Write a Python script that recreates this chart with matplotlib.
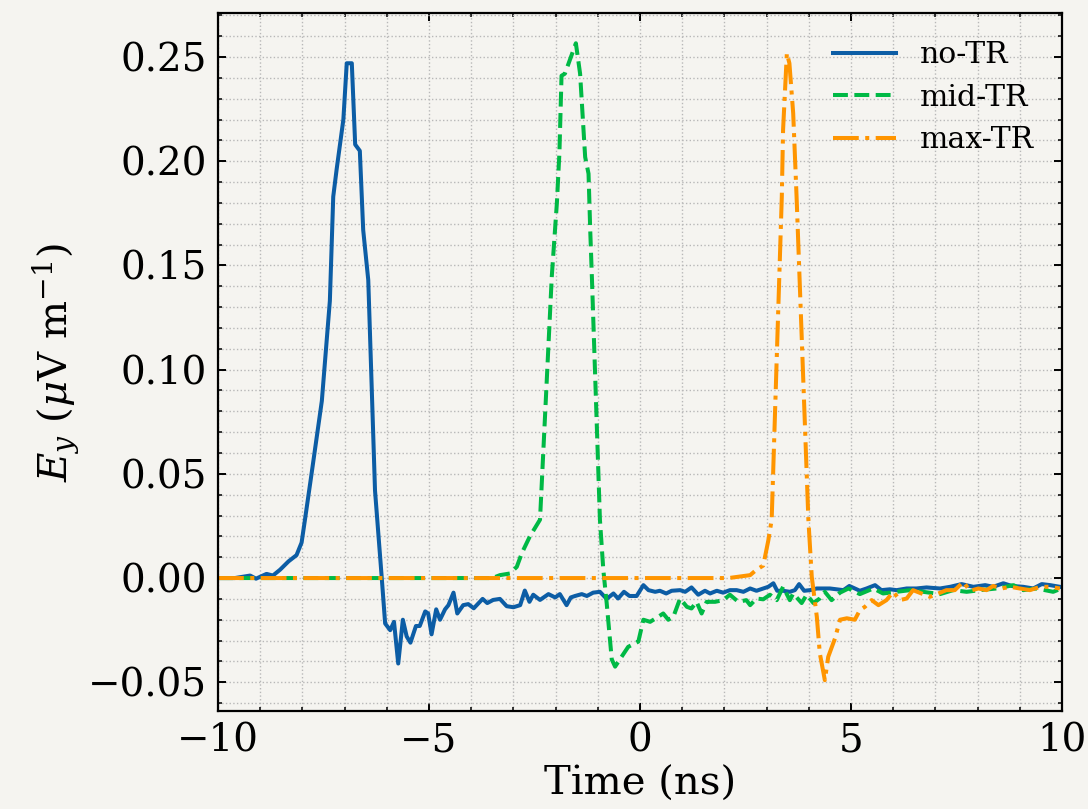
import matplotlib
matplotlib.use("Agg")
import matplotlib.pyplot as plt
from matplotlib.ticker import MultipleLocator

# ---------------- data ----------------
t_no = [-10, -9.6, -9.24, -9.1, -8.85, -8.7, -8.53, -8.33, -8.14, -8.02, -7.94, -7.77, -7.54,
        -7.35, -7.27, -7.19, -7.03, -6.95, -6.83, -6.75, -6.64, -6.56, -6.44, -6.28, -6.12,
        -6.04, -5.92, -5.83, -5.73, -5.62, -5.53, -5.44, -5.31, -5.22, -5.09, -5.02, -4.94,
        -4.83, -4.74, -4.62, -4.54, -4.42, -4.33, -4.19, -4.07, -3.94, -3.73, -3.62, -3.48,
        -3.32, -3.16, -3.00, -2.84, -2.73, -2.62, -2.53, -2.37, -2.17, -2.01, -1.90, -1.74,
        -1.64, -1.54, -1.38, -1.26, -1.11, -0.95, -0.79, -0.63, -0.52, -0.38, -0.25, -0.08,
        0.08, 0.20, 0.36, 0.47, 0.62, 0.75, 0.95, 1.07, 1.22, 1.38, 1.54, 1.66, 1.82, 1.97,
        2.13, 2.29, 2.45, 2.61, 2.76, 2.92, 3.04, 3.16, 3.25, 3.39, 3.55, 3.67, 3.77, 3.89,
        4.03, 4.19, 4.38, 4.50, 4.66, 4.82, 4.96, 5.21, 5.37, 5.57, 5.72, 5.92, 6.08, 6.32,
        6.55, 6.79, 7.11, 7.35, 7.62, 7.90, 8.18, 8.37, 8.61, 8.81, 9.08, 9.32, 9.52, 9.72, 9.95]
e_no = [0.0, 0.0, 0.0012, -0.0003, 0.002, 0.0012, 0.004, 0.008, 0.011, 0.017, 0.028, 0.052, 0.085,
        0.133, 0.183, 0.196, 0.22, 0.247, 0.247, 0.208, 0.205, 0.167, 0.143, 0.042, 0.0,
        -0.0218, -0.025, -0.021, -0.041, -0.020, -0.028, -0.031, -0.023, -0.023, -0.016, -0.017, -0.027,
        -0.015, -0.020, -0.015, -0.013, -0.007, -0.017, -0.013, -0.0125, -0.0145, -0.010, -0.012, -0.0105,
        -0.010, -0.0135, -0.014, -0.013, -0.006, -0.0114, -0.008, -0.0105, -0.0077, -0.0093, -0.0077, -0.013,
        -0.0093, -0.0086, -0.0077, -0.0086, -0.007, -0.0066, -0.010, -0.0074, -0.0098, -0.0066, -0.0086, -0.0086,
        -0.0034, -0.0058, -0.0066, -0.0061, -0.0074, -0.0061, -0.0058, -0.0066, -0.0045, -0.008, -0.0061, -0.0074, -0.0061, -0.007,
        -0.0058, -0.0058, -0.0066, -0.005, -0.0061, -0.005, -0.0042, -0.0025, -0.0061, -0.0061, -0.0066, -0.0058, -0.0029, -0.0061,
        -0.0058, -0.005, -0.005, -0.005, -0.0054, -0.0058, -0.0038, -0.0061, -0.005, -0.0034, -0.0058, -0.0054, -0.0058, -0.005,
        -0.005, -0.0045, -0.005, -0.0042, -0.0029, -0.0042, -0.0034, -0.0042, -0.0025, -0.0038, -0.0042, -0.005, -0.0029, -0.0034, -0.0042]

t_mid = [-10, -3.5, -3.32, -3.08, -2.92, -2.80, -2.61, -2.37, -2.09, -1.97, -1.91, -1.86, -1.78,
         -1.52, -1.42, -1.30, -1.22, -1.18, -1.14, -0.95, -0.87, -0.79, -0.67, -0.59, -0.51,
         -0.28, -0.04, 0.08, 0.24, 0.43, 0.55, 0.67, 0.79, 0.95, 1.11, 1.22, 1.34, 1.46, 1.58,
         1.78, 1.97, 2.13, 2.33, 2.52, 2.61, 2.76, 2.92, 3.08, 3.24, 3.39, 3.55, 3.63, 3.83,
         3.95, 4.11, 4.26, 4.38, 4.54, 4.74, 4.94, 5.21, 5.53, 5.76, 6.08, 6.40, 6.71, 7.11,
         7.42, 7.74, 8.06, 8.45, 8.85, 9.08, 9.40, 9.79, 9.99]
e_mid = [0.0, 0.0, 0.0014, 0.0022, 0.0054, 0.012, 0.020, 0.028, 0.145, 0.18, 0.204, 0.241, 0.242,
         0.2566, 0.242, 0.202, 0.194, 0.167, 0.144, 0.028, 0.004, -0.012, -0.039, -0.0425, -0.040,
         -0.033, -0.0305, -0.020, -0.021, -0.0186, -0.017, -0.020, -0.0186, -0.0098, -0.0138, -0.0146, -0.0114, -0.017, -0.0114,
         -0.0114, -0.0106, -0.008, -0.0114, -0.0106, -0.013, -0.0098, -0.0102, -0.008, -0.0106, -0.0042, -0.0106, -0.0074, -0.012,
         -0.008, -0.012, -0.0098, -0.0066, -0.0106, -0.007, -0.005, -0.0077, -0.005, -0.0074, -0.0066, -0.0058, -0.0066, -0.0077,
         -0.0058, -0.0066, -0.0058, -0.005, -0.0034, -0.0058, -0.005, -0.0066, -0.005]

t_max = [-10, 2.1, 2.61, 2.76, 2.92, 3.04, 3.12, 3.36, 3.39, 3.48, 3.54, 3.63, 3.71, 3.99, 4.07,
         4.19, 4.26, 4.38, 4.46, 4.62, 4.74, 4.90, 5.09, 5.21, 5.33, 5.49, 5.65, 5.84, 6.00,
         6.16, 6.32, 6.47, 6.67, 6.87, 7.07, 7.26, 7.46, 7.66, 7.82, 8.02, 8.21, 8.37, 8.57,
         8.77, 9.00, 9.24, 9.48, 9.72, 9.95]
e_max = [0.0, 0.0, 0.0014, 0.004, 0.006, 0.018, 0.028, 0.183, 0.215, 0.2518, 0.247, 0.223, 0.183, 0.028, 0.0006,
         -0.0186, -0.036, -0.049, -0.0378, -0.029, -0.020, -0.0193, -0.020, -0.0154, -0.0138, -0.0106, -0.013, -0.0106, -0.0066,
         -0.0106, -0.0098, -0.0058, -0.0074, -0.009, -0.0074, -0.0058, -0.0058, -0.0018, -0.0061, -0.005, -0.0058, -0.0038, -0.005,
         -0.0042, -0.005, -0.0058, -0.0042, -0.0042, -0.005]

labels = ["no-TR", "mid-TR", "max-TR"]
colors = ["#0C5DA5", "#00B945", "#FF9500"]

# ---------------- style ----------------
bg = "#f5f4f0"
plt.rcParams.update({
    "font.family": ["DejaVu Serif"],
    "mathtext.fontset": "dejavuserif",
    "font.size": 28,
    "axes.linewidth": 1.6,
    "axes.unicode_minus": True,
    "xtick.direction": "in",
    "ytick.direction": "in",
    "xtick.top": True,
    "ytick.right": True,
    "xtick.major.size": 6,
    "ytick.major.size": 6,
    "xtick.minor.size": 3,
    "ytick.minor.size": 3,
    "xtick.major.width": 1.4,
    "ytick.major.width": 1.4,
    "xtick.minor.width": 1.1,
    "ytick.minor.width": 1.1,
})

fig = plt.figure(figsize=(10.88, 8.09), dpi=100, facecolor=bg)
ax = fig.add_axes([0.2004, 0.1211, 0.7757, 0.8628], facecolor=bg)

ax.plot(t_no, e_no, color=colors[0], lw=2.9, ls="-", label=labels[0])
ax.plot(t_mid, e_mid, color=colors[1], lw=2.9, ls="--", label=labels[1])
ax.plot(t_max, e_max, color=colors[2], lw=2.9, ls="-.", label=labels[2])

ax.set_xlim(-10, 10)
ax.set_ylim(-0.0638, 0.2711)
ax.xaxis.set_major_locator(MultipleLocator(5))
ax.xaxis.set_minor_locator(MultipleLocator(1))
ax.yaxis.set_major_locator(MultipleLocator(0.05))
ax.yaxis.set_minor_locator(MultipleLocator(0.01))
ax.yaxis.set_major_formatter(matplotlib.ticker.FuncFormatter(
    lambda v, p: ("%.2f" % v).replace("-", "\u2212") if abs(v) > 1e-9 else "0.00"))
ax.grid(True, which="both", ls=":", color="#b8b8b8", lw=1.0)
ax.set_axisbelow(True)
ax.tick_params(axis="both", which="major", labelsize=28, pad=8)

ax.set_xlabel("Time (ns)", fontsize=29, labelpad=5)
ax.set_ylabel(r"$E_y$ ($\mu$V m$^{-1}$)", fontsize=29, labelpad=4)

leg = ax.legend(loc="upper right", frameon=False, fontsize=21.5, handlelength=2.1,
                handletextpad=0.8, labelspacing=0.48, borderaxespad=0.55)

fig.savefig("out.png", dpi=100, facecolor=bg)
